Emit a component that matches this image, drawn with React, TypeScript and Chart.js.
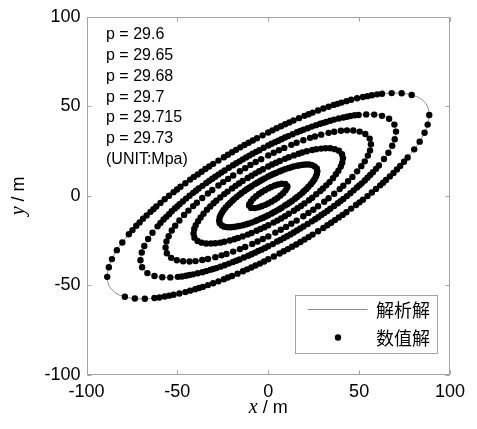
import React, { useEffect, useRef } from 'react';
import { Chart, registerables } from 'chart.js';

Chart.register(...registerables);

type P = [number, number];

// analytic curve of the outer contour (full)
const ring1Curve: P[] = [
  [88.6,45.2],[87.5,50.2],[83.8,54.3],[78.9,56.3],[73.4,57.3],[67.9,57.4],[62.6,57.0],[57.0,56.2],[52.1,55.2],[45.6,53.7],
  [40.2,52.1],[36.0,50.8],[30.3,48.8],[24.4,46.5],[19.9,44.7],[13.9,42.1],[9.3,40.0],[4.6,37.8],[0,35.4],[-6.2,32.2],
  [-10.8,29.7],[-15.4,27.1],[-19.9,24.4],[-24.4,21.6],[-30.3,17.9],[-34.6,15.0],[-38.8,12.0],[-43.0,9.1],[-48.3,5.1],[-52.1,2.1],
  [-57.0,-1.9],[-61.6,-5.9],[-64.8,-8.9],[-68.9,-12.8],[-72.6,-16.7],[-76.7,-21.4],[-80.3,-26.0],[-83.3,-30.3],[-86.0,-35.3],[-87.7,-39.8],
  [-88.6,-45.2],[-87.5,-50.2],[-83.8,-54.3],[-78.9,-56.3],[-73.4,-57.3],[-67.9,-57.4],[-62.6,-57.0],[-57.0,-56.2],[-52.1,-55.2],[-45.6,-53.7],
  [-40.2,-52.1],[-36.0,-50.8],[-30.3,-48.8],[-24.4,-46.5],[-19.9,-44.7],[-13.9,-42.1],[-9.3,-40.0],[-4.6,-37.8],[0,-35.4],[6.2,-32.2],
  [10.8,-29.7],[15.4,-27.1],[19.9,-24.4],[24.4,-21.6],[30.3,-17.9],[34.6,-15.0],[38.8,-12.0],[43.0,-9.1],[48.3,-5.1],[52.1,-2.1],
  [57.0,1.9],[61.6,5.9],[64.8,8.9],[68.9,12.8],[72.6,16.7],[76.7,21.4],[80.3,26.0],[83.3,30.3],[86.0,35.3],[87.7,39.8]
];

// numeric points, outer contour
const ring1: P[] = [
  [88.6,45.2],[78.9,56.3],[73.4,57.3],[67.9,57.4],[62.6,57.0],[57.0,56.2],[52.1,55.2],[45.6,53.7],
  [40.2,52.1],[36.0,50.8],[30.3,48.8],[24.4,46.5],[19.9,44.7],[13.9,42.1],[9.3,40.0],[4.6,37.8],[0,35.4],[-6.2,32.2],
  [-10.8,29.7],[-15.4,27.1],[-19.9,24.4],[-24.4,21.6],[-30.3,17.9],[-34.6,15.0],[-38.8,12.0],[-43.0,9.1],[-48.3,5.1],[-52.1,2.1],
  [-57.0,-1.9],[-61.6,-5.9],[-64.8,-8.9],[-68.9,-12.8],[-72.6,-16.7],[-76.7,-21.4],[-80.3,-26.0],[-83.3,-30.3],[-86.0,-35.3],[-87.7,-39.8],
  [-88.6,-45.2],[-78.9,-56.3],[-73.4,-57.3],[-67.9,-57.4],[-62.6,-57.0],[-57.0,-56.2],[-52.1,-55.2],[-45.6,-53.7],
  [-40.2,-52.1],[-36.0,-50.8],[-30.3,-48.8],[-24.4,-46.5],[-19.9,-44.7],[-13.9,-42.1],[-9.3,-40.0],[-4.6,-37.8],[0,-35.4],[6.2,-32.2],
  [10.8,-29.7],[15.4,-27.1],[19.9,-24.4],[24.4,-21.6],[30.3,-17.9],[34.6,-15.0],[38.8,-12.0],[43.0,-9.1],[48.3,-5.1],[52.1,-2.1],
  [57.0,1.9],[61.6,5.9],[64.8,8.9],[68.9,12.8],[72.6,16.7],[76.7,21.4],[80.3,26.0],[83.3,30.3],[86.0,35.3],[87.7,39.8]
];

// extra numeric points along the long flanks of the outer contour
const ring1Flank: P[] = [
  [59.9,56.7],[54.6,55.7],[48.9,54.5],[43.0,52.9],[38.1,51.4],[33.2,49.8],[27.4,47.7],[22.2,45.6],[16.9,43.4],[11.6,41.0],
  [7.0,38.9],[2.3,36.6],[-3.1,33.8],[-8.5,30.9],[-13.1,28.4],[-17.7,25.7],[-22.2,23.0],[-27.4,19.7],[-32.5,16.4],[-36.7,13.5],
  [-40.9,10.6],[-45.6,7.1],[-50.2,3.6],[-54.6,0.1],[-59.3,-3.9],[-63.2,-7.4],[-66.9,-10.9],[-70.8,-14.8],[-74.7,-19.1],
  [-59.9,-56.7],[-54.6,-55.7],[-48.9,-54.5],[-43.0,-52.9],[-38.1,-51.4],[-33.2,-49.8],[-27.4,-47.7],[-22.2,-45.6],[-16.9,-43.4],[-11.6,-41.0],
  [-7.0,-38.9],[-2.3,-36.6],[3.1,-33.8],[8.5,-30.9],[13.1,-28.4],[17.7,-25.7],[22.2,-23.0],[27.4,-19.7],[32.5,-16.4],[36.7,-13.5],
  [40.9,-10.6],[45.6,-7.1],[50.2,-3.6],[54.6,-0.1],[59.3,3.9],[63.2,7.4],[66.9,10.9],[70.8,14.8],[74.7,19.1]
];

const ring2: P[] = [
  [70.3,35.9],[69.4,39.8],[66.5,43.1],[62.6,44.7],[58.3,45.4],[53.9,45.5],[49.7,45.2],[45.2,44.6],[41.3,43.8],[36.2,42.6],
  [31.9,41.3],[28.6,40.3],[24.0,38.7],[19.4,36.9],[15.8,35.5],[11.0,33.4],[7.3,31.7],[3.7,30.0],[0,28.1],[-4.9,25.5],
  [-8.6,23.5],[-12.2,21.5],[-15.8,19.3],[-19.4,17.1],[-24.0,14.2],[-27.5,11.9],[-30.8,9.6],[-34.1,7.2],[-38.3,4.1],[-41.3,1.7],
  [-45.2,-1.5],[-48.8,-4.7],[-51.4,-7.0],[-54.6,-10.2],[-57.6,-13.2],[-60.9,-17.0],[-63.7,-20.6],[-66.1,-24.1],[-68.2,-28.0],[-69.6,-31.6],
  [-70.3,-35.9],[-69.4,-39.8],[-66.5,-43.1],[-62.6,-44.7],[-58.3,-45.4],[-53.9,-45.5],[-49.7,-45.2],[-45.2,-44.6],[-41.3,-43.8],[-36.2,-42.6],
  [-31.9,-41.3],[-28.6,-40.3],[-24.0,-38.7],[-19.4,-36.9],[-15.8,-35.5],[-11.0,-33.4],[-7.3,-31.7],[-3.7,-30.0],[0,-28.1],[4.9,-25.5],
  [8.6,-23.5],[12.2,-21.5],[15.8,-19.3],[19.4,-17.1],[24.0,-14.2],[27.5,-11.9],[30.8,-9.6],[34.1,-7.2],[38.3,-4.1],[41.3,-1.7],
  [45.2,1.5],[48.8,4.7],[51.4,7.0],[54.6,10.2],[57.6,13.2],[60.9,17.0],[63.7,20.6],[66.1,24.1],[68.2,28.0],[69.6,31.6]
];

const ring2Flank: P[] = [
  [47.5,45.0],[43.3,44.2],[38.8,43.2],[34.1,42.0],[30.3,40.8],[26.3,39.5],[21.7,37.8],[17.6,36.2],[13.4,34.4],[9.2,32.6],
  [5.5,30.8],[1.8,29.1],[-2.5,26.9],[-6.7,24.6],[-10.4,22.5],[-14.0,20.4],[-17.6,18.2],[-21.7,15.7],[-25.8,13.0],[-29.2,10.7],
  [-32.5,8.4],[-36.2,5.6],[-39.8,2.9],[-43.3,0.1],[-47.0,-3.1],[-50.1,-5.9],[-53.1,-8.6],[-56.1,-11.7],[-59.3,-15.1],
  [-47.5,-45.0],[-43.3,-44.2],[-38.8,-43.2],[-34.1,-42.0],[-30.3,-40.8],[-26.3,-39.5],[-21.7,-37.8],[-17.6,-36.2],[-13.4,-34.4],[-9.2,-32.6],
  [-5.5,-30.8],[-1.8,-29.1],[2.5,-26.9],[6.7,-24.6],[10.4,-22.5],[14.0,-20.4],[17.6,-18.2],[21.7,-15.7],[25.8,-13.0],[29.2,-10.7],
  [32.5,-8.4],[36.2,-5.6],[39.8,-2.9],[43.3,-0.1],[47.0,3.1],[50.1,5.9],[53.1,8.6],[56.1,11.7],[59.3,15.1]
];

const ring3: P[] = [
  [56.5,28.8],[55.8,32.0],[53.4,34.6],[50.3,35.9],[46.8,36.5],[43.3,36.6],[40.0,36.4],[36.3,35.8],[33.2,35.2],[29.1,34.2],
  [25.7,33.2],[23.0,32.4],[19.3,31.1],[15.6,29.7],[12.7,28.5],[8.8,26.8],[5.9,25.5],[3.0,24.1],[0,22.6],[-3.9,20.5],
  [-6.9,18.9],[-9.8,17.3],[-12.7,15.5],[-15.6,13.8],[-19.3,11.4],[-22.1,9.5],[-24.8,7.7],[-27.4,5.8],[-30.8,3.3],[-33.2,1.3],
  [-36.3,-1.2],[-39.3,-3.8],[-41.3,-5.7],[-43.9,-8.2],[-46.3,-10.6],[-48.9,-13.7],[-51.2,-16.6],[-53.1,-19.3],[-54.8,-22.5],[-56.0,-25.4],
  [-56.5,-28.8],[-55.8,-32.0],[-53.4,-34.6],[-50.3,-35.9],[-46.8,-36.5],[-43.3,-36.6],[-40.0,-36.4],[-36.3,-35.8],[-33.2,-35.2],[-29.1,-34.2],
  [-25.7,-33.2],[-23.0,-32.4],[-19.3,-31.1],[-15.6,-29.7],[-12.7,-28.5],[-8.8,-26.8],[-5.9,-25.5],[-3.0,-24.1],[0,-22.6],[3.9,-20.5],
  [6.9,-18.9],[9.8,-17.3],[12.7,-15.5],[15.6,-13.8],[19.3,-11.4],[22.1,-9.5],[24.8,-7.7],[27.4,-5.8],[30.8,-3.3],[33.2,-1.3],
  [36.3,1.2],[39.3,3.8],[41.3,5.7],[43.9,8.2],[46.3,10.6],[48.9,13.7],[51.2,16.6],[53.1,19.3],[54.8,22.5],[56.0,25.4]
];

const ring4: P[] = [
  [41.1,21.0],[40.6,23.3],[38.9,25.2],[36.6,26.1],[34.1,26.6],[31.5,26.6],[29.1,26.4],[26.4,26.1],[24.2,25.6],[21.2,24.9],
  [18.7,24.2],[16.7,23.5],[14.1,22.6],[11.3,21.6],[9.2,20.7],[6.4,19.5],[4.3,18.5],[2.1,17.5],[0,16.4],[-2.9,14.9],
  [-5.0,13.8],[-7.1,12.6],[-9.2,11.3],[-11.3,10.0],[-14.1,8.3],[-16.1,6.9],[-18.0,5.6],[-19.9,4.2],[-22.4,2.4],[-24.2,1.0],
  [-26.4,-0.9],[-28.6,-2.7],[-30.1,-4.1],[-31.9,-5.9],[-33.7,-7.7],[-35.6,-9.9],[-37.2,-12.1],[-38.6,-14.1],[-39.9,-16.4],[-40.7,-18.5],
  [-41.1,-21.0],[-40.6,-23.3],[-38.9,-25.2],[-36.6,-26.1],[-34.1,-26.6],[-31.5,-26.6],[-29.1,-26.4],[-26.4,-26.1],[-24.2,-25.6],[-21.2,-24.9],
  [-18.7,-24.2],[-16.7,-23.5],[-14.1,-22.6],[-11.3,-21.6],[-9.2,-20.7],[-6.4,-19.5],[-4.3,-18.5],[-2.1,-17.5],[0,-16.4],[2.9,-14.9],
  [5.0,-13.8],[7.1,-12.6],[9.2,-11.3],[11.3,-10.0],[14.1,-8.3],[16.1,-6.9],[18.0,-5.6],[19.9,-4.2],[22.4,-2.4],[24.2,-1.0],
  [26.4,0.9],[28.6,2.7],[30.1,4.1],[31.9,5.9],[33.7,7.7],[35.6,9.9],[37.2,12.1],[38.6,14.1],[39.9,16.4],[40.7,18.5]
];

const ring5: P[] = [
  [27.0,13.8],[26.7,15.3],[25.5,16.5],[24.1,17.2],[22.4,17.5],[20.7,17.5],[19.1,17.4],[17.4,17.1],[15.9,16.8],[13.9,16.4],
  [12.3,15.9],[11.0,15.5],[9.2,14.9],[7.4,14.2],[6.1,13.6],[4.2,12.8],[2.8,12.2],[1.4,11.5],[0,10.8],[-1.9,9.8],
  [-3.3,9.0],[-4.7,8.2],[-6.1,7.4],[-7.4,6.6],[-9.2,5.4],[-10.5,4.6],[-11.8,3.7],[-13.1,2.8],[-14.7,1.6],[-15.9,0.6],
  [-17.4,-0.6],[-18.8,-1.8],[-19.7,-2.7],[-21.0,-3.9],[-22.1,-5.1],[-23.4,-6.5],[-24.5,-7.9],[-25.4,-9.2],[-26.2,-10.7],[-26.7,-12.1],
  [-27.0,-13.8],[-26.7,-15.3],[-25.5,-16.5],[-24.1,-17.2],[-22.4,-17.5],[-20.7,-17.5],[-19.1,-17.4],[-17.4,-17.1],[-15.9,-16.8],[-13.9,-16.4],
  [-12.3,-15.9],[-11.0,-15.5],[-9.2,-14.9],[-7.4,-14.2],[-6.1,-13.6],[-4.2,-12.8],[-2.8,-12.2],[-1.4,-11.5],[0,-10.8],[1.9,-9.8],
  [3.3,-9.0],[4.7,-8.2],[6.1,-7.4],[7.4,-6.6],[9.2,-5.4],[10.5,-4.6],[11.8,-3.7],[13.1,-2.8],[14.7,-1.6],[15.9,-0.6],
  [17.4,0.6],[18.8,1.8],[19.7,2.7],[21.0,3.9],[22.1,5.1],[23.4,6.5],[24.5,7.9],[25.4,9.2],[26.2,10.7],[26.7,12.1]
];

const ring6: P[] = [
  [10.5,5.4],[9.4,6.7],[7.4,6.8],[5.4,6.4],[3.6,5.8],[1.6,5.0],[0,4.2],[-1.8,3.2],[-3.6,2.1],[-5.1,1.1],
  [-6.7,-0.2],[-8.2,-1.5],[-9.5,-3.1],[-10.4,-4.7],
  [-10.5,-5.4],[-9.4,-6.7],[-7.4,-6.8],[-5.4,-6.4],[-3.6,-5.8],[-1.6,-5.0],[0,-4.2],[1.8,-3.2],[3.6,-2.1],[5.1,-1.1],
  [6.7,0.2],[8.2,1.5],[9.5,3.1],[10.4,4.7]
];

const pressureLabels = ['p = 29.6', 'p = 29.65', 'p = 29.68', 'p = 29.7', 'p = 29.715', 'p = 29.73', '(UNIT:Mpa)'];
const legendLabels = ['解析解', '数值解'];
const xTicks = [-100, -50, 0, 50, 100];
const yTicks = [-100, -50, 0, 50, 100];
const xTitle = ['x', ' / m'];
const yTitle = ['y', ' / m'];

const SANS = '"Liberation Sans", Arial, Helvetica, sans-serif';
const SERIF = '"Liberation Serif", "Times New Roman", serif';
const CJK = '"Noto Sans CJK SC", "Noto Sans CJK JP", sans-serif';
const FRAME = '#a3a3a3';
const CURVE = '#8c8c8c';
const DOT_R = 3.2;

const toXY = (r: P[]) => r.map(([x, y]) => ({ x, y }));

function drawMixedTitle(ctx: CanvasRenderingContext2D, parts: string[], cx: number, cy: number) {
  ctx.textBaseline = 'middle';
  ctx.textAlign = 'left';
  ctx.font = `italic 20px ${SERIF}`;
  const w1 = ctx.measureText(parts[0]).width;
  ctx.font = `18px ${SANS}`;
  const w2 = ctx.measureText(parts[1]).width;
  const start = cx - (w1 + w2) / 2;
  ctx.fillStyle = '#000';
  ctx.font = `italic 20px ${SERIF}`;
  ctx.fillText(parts[0], start, cy);
  ctx.font = `18px ${SANS}`;
  ctx.fillText(parts[1], start + w1, cy);
}

const decorPlugin = {
  id: 'decor',
  afterDraw(chart: any) {
    const { ctx, chartArea: a, scales } = chart;
    const xs = scales.x;
    const ys = scales.y;
    const L = Math.round(a.left) + 0.5;
    const R = Math.round(a.right) - 0.5;
    const T = Math.round(a.top) + 0.5;
    const B = Math.round(a.bottom) - 0.5;
    ctx.save();
    ctx.strokeStyle = FRAME;
    ctx.lineWidth = 1;
    ctx.strokeRect(L, T, R - L, B - T);
    ctx.beginPath();
    for (const v of xTicks) {
      const px = Math.round(xs.getPixelForValue(v)) + 0.5;
      ctx.moveTo(px, B); ctx.lineTo(px, B - 4);
      ctx.moveTo(px, T); ctx.lineTo(px, T + 4);
    }
    for (const v of yTicks) {
      const py = Math.round(ys.getPixelForValue(v)) + 0.5;
      ctx.moveTo(L, py); ctx.lineTo(L + 4, py);
      ctx.moveTo(R, py); ctx.lineTo(R - 4, py);
    }
    ctx.stroke();

    // pressure annotations
    ctx.fillStyle = '#000';
    ctx.font = `16px ${SANS}`;
    ctx.textAlign = 'left';
    ctx.textBaseline = 'middle';
    pressureLabels.forEach((s, i) => {
      ctx.fillText(s, a.left + 19.5, a.top + 18.2 + i * 20.7);
    });

    // legend
    const bx = Math.round(a.right - 155.5) + 0.5;
    const by = Math.round(a.bottom - 80) + 0.5;
    const bw = 142;
    const bh = 58;
    ctx.fillStyle = '#fff';
    ctx.fillRect(bx, by, bw, bh);
    ctx.strokeStyle = FRAME;
    ctx.strokeRect(bx, by, bw, bh);
    ctx.strokeStyle = CURVE;
    ctx.beginPath();
    ctx.moveTo(bx + 12, by + 14);
    ctx.lineTo(bx + 72, by + 14);
    ctx.stroke();
    ctx.fillStyle = '#000';
    ctx.beginPath();
    ctx.arc(bx + 42.5, by + 42, DOT_R, 0, Math.PI * 2);
    ctx.fill();
    ctx.font = `18px ${CJK}`;
    ctx.textBaseline = 'middle';
    ctx.fillText(legendLabels[0], bx + 80.5, by + 15);
    ctx.fillText(legendLabels[1], bx + 80.5, by + 43);

    // axis titles
    drawMixedTitle(ctx, xTitle, (a.left + a.right) / 2, 408);
    ctx.save();
    ctx.translate(19, (a.top + a.bottom) / 2);
    ctx.rotate(-Math.PI / 2);
    drawMixedTitle(ctx, yTitle, 0, 0);
    ctx.restore();
    ctx.restore();
  },
};

export default function App() {
  const canvasRef = useRef<HTMLCanvasElement | null>(null);

  useEffect(() => {
    const canvas = canvasRef.current;
    if (!canvas) return;
    const dotRings = [ring1, ring1Flank, ring2, ring2Flank, ring3, ring4, ring5, ring6];
    const curves = [ring1Curve, ring2, ring3, ring4, ring5, ring6];
    const dotSets = dotRings.map((r) => ({
      label: legendLabels[1],
      data: toXY(r),
      showLine: false,
      pointRadius: DOT_R,
      pointHoverRadius: DOT_R,
      pointBackgroundColor: '#000',
      pointBorderColor: '#000',
      pointBorderWidth: 0,
      order: 0,
    }));
    const lineSets = curves.map((r) => ({
      label: legendLabels[0],
      data: toXY([...r, r[0]]),
      showLine: true,
      pointRadius: 0,
      pointHoverRadius: 0,
      borderColor: CURVE,
      borderWidth: 1,
      tension: 0.4,
      fill: false,
      order: 1,
    }));
    const tickFont = { family: SANS, size: 18 };
    const chart = new Chart(canvas, {
      type: 'scatter',
      data: { datasets: [...dotSets, ...lineSets] as any },
      plugins: [decorPlugin],
      options: {
        animation: false,
        responsive: false,
        devicePixelRatio: 1,
        layout: { padding: { left: 0, right: 27, top: 13.5, bottom: 0 } },
        plugins: { legend: { display: false }, tooltip: { enabled: false } },
        scales: {
          x: {
            type: 'linear',
            min: -100,
            max: 100,
            afterBuildTicks: (s: any) => { s.ticks = xTicks.map((v) => ({ value: v })); },
            ticks: { font: tickFont, color: '#000', padding: 6, maxRotation: 0 },
            grid: { display: false, drawTicks: false },
            border: { display: false },
            afterFit: (s: any) => { s.height = 54; },
          },
          y: {
            type: 'linear',
            min: -100,
            max: 100,
            afterBuildTicks: (s: any) => { s.ticks = yTicks.map((v) => ({ value: v })); },
            ticks: { font: tickFont, color: '#000', padding: 6 },
            grid: { display: false, drawTicks: false },
            border: { display: false },
            afterFit: (s: any) => { s.width = 86.5; },
          },
        },
      } as any,
    });
    return () => chart.destroy();
  }, []);

  return (
    <div style={{ position: 'absolute', left: 0, top: 0, width: 477, height: 429, background: '#fff' }}>
      <canvas ref={canvasRef} width={477} height={429} style={{ width: 477, height: 429, display: 'block' }} />
    </div>
  );
}
